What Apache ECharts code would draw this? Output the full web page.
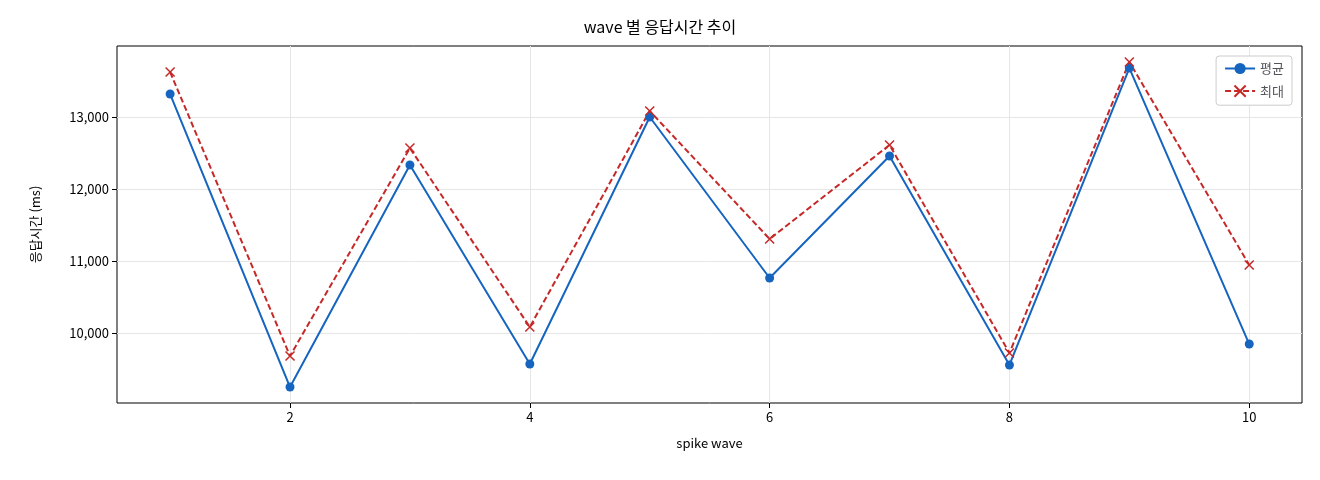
<!DOCTYPE html><html><head><meta charset="utf-8"><script src="https://cdn.jsdelivr.net/npm/echarts@6/dist/echarts.min.js"></script></head><body style="margin:0"><div id="c" style="width:1320px;height:480px"></div><script>
const waves=[1,2,3,4,5,6,7,8,9,10];
const avgVals=[13319,9250,12333,9569,13000,10764,12458,9556,13680,9847];
const maxVals=[13625,9681,12569,10083,13083,11306,12611,9722,13764,10944];
const xTicks=[2,4,6,8,10];
const yTicks=[10000,11000,12000,13000];
const F='"Noto Sans CJK KR", "DejaVu Sans", sans-serif';
const ch=echarts.init(document.getElementById('c'));
ch.setOption({
 textStyle:{fontFamily:F},
 title:{text:'wave 별 응답시간 추이',left:'center',top:14,textStyle:{fontSize:16,fontWeight:'normal',color:'#000',fontFamily:F}},
 grid:{left:117,right:18,top:46,bottom:77,show:true,borderColor:'#000',borderWidth:1},
 legend:{right:28,top:56,orient:'vertical',itemGap:8,backgroundColor:'#fff',borderColor:'#ccc',borderWidth:1,borderRadius:3,padding:[6,8],itemWidth:30,textStyle:{fontSize:13,fontFamily:F},data:['평균','최대']},
 xAxis:{type:'value',min:0.557,max:10.44,name:'spike wave',nameLocation:'middle',nameGap:34,nameTextStyle:{fontSize:13,color:'#000'},
  axisLine:{show:false},axisTick:{show:true,customValues:xTicks,lineStyle:{color:'#000'}},
  axisLabel:{color:'#000',fontSize:13,customValues:xTicks},
  splitLine:{show:true,lineStyle:{color:'#e6e6e6'}}},
 yAxis:{type:'value',min:9028,max:13986,name:'응답시간 (ms)',nameLocation:'middle',nameGap:75,nameTextStyle:{fontSize:13,color:'#000'},
  axisLine:{show:false},axisTick:{show:true,customValues:yTicks,lineStyle:{color:'#000'}},
  axisLabel:{color:'#000',fontSize:13,customValues:yTicks},
  splitLine:{show:true,lineStyle:{color:'#e6e6e6'}}},
 series:[
  {name:'평균',type:'line',data:waves.map((w,i)=>[w,avgVals[i]]),symbol:'circle',symbolSize:9,lineStyle:{color:'#1565c0',width:2},itemStyle:{color:'#1565c0'}},
  {name:'최대',type:'line',data:waves.map((w,i)=>[w,maxVals[i]]),symbol:'path://M0,0L10,10M10,0L0,10',symbolSize:9,lineStyle:{color:'#c62828',width:2,type:[6,3]},itemStyle:{color:'none',borderColor:'#c62828',borderWidth:1.5}}
 ]
});
</script></body></html>
